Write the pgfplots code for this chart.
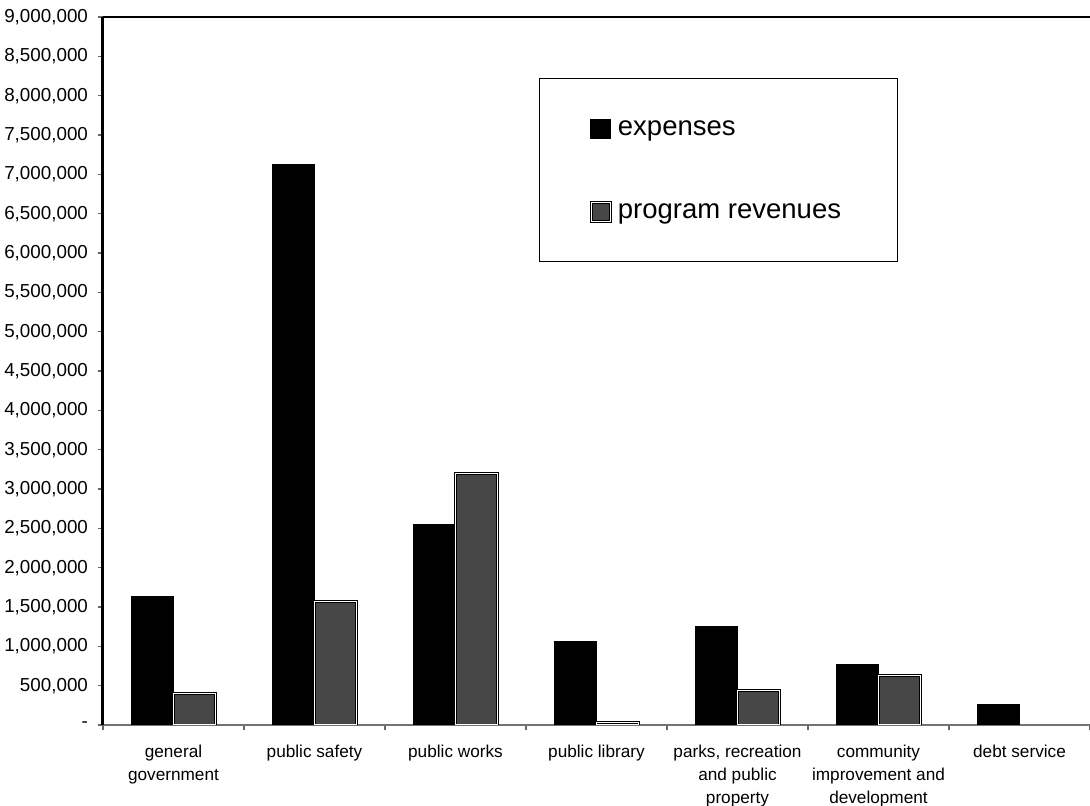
\documentclass[border=0pt]{standalone}
\usepackage{fontspec}
\setmainfont{Liberation Sans}
\usepackage{pgfplots}
\pgfplotsset{compat=1.18}
\begin{document}
\begin{tikzpicture}
\useasboundingbox (-51.5pt,-40.5pt) rectangle (493.5pt,362.5pt);
\begin{axis}[
  at={(0pt,0pt)}, anchor=south west,
  scale only axis, width=493.5pt, height=354pt,
  xmin=-0.5, xmax=6.5, ymin=0, ymax=9000000,
  axis x line*=bottom, axis y line*=left,
  x axis line style={draw=black!55, line width=0.9pt},
  y axis line style={draw=black, line width=1.5pt},
  tick align=outside,
  major tick length=2.5pt,
  minor tick length=2.5pt,
  ytick={0,500000,1000000,1500000,2000000,2500000,3000000,3500000,4000000,4500000,5000000,5500000,6000000,6500000,7000000,7500000,8000000,8500000,9000000},
  yticklabels={-,{500,000},{1,000,000},{1,500,000},{2,000,000},{2,500,000},{3,000,000},{3,500,000},{4,000,000},{4,500,000},{5,000,000},{5,500,000},{6,000,000},{6,500,000},{7,000,000},{7,500,000},{8,000,000},{8,500,000},{9,000,000}},
  yticklabel style={font=\fontsize{9.4}{11}\selectfont, xshift=-1.5pt},
  ytick style={draw=black!60, line width=0.7pt},
  xtick={0,1,2,3,4,5,6},
  xticklabels={general\\government, public safety, public works, public library, {parks, recreation\\and public\\property}, community\\improvement and\\development, debt service},
  xticklabel style={align=center, font=\fontsize{8.6}{11.5}\selectfont, anchor=north, yshift=-4pt},
  major x tick style={draw=none},
  minor xtick={-0.5,0.5,1.5,2.5,3.5,4.5,5.5,6.5},
  minor x tick style={draw=black!60, line width=0.8pt},
  ybar=0pt, bar width=21pt,
  every axis plot post/.append style={legend image code/.code={\draw[#1] (0pt,-4.75pt) rectangle (9.5pt,4.75pt);}},
  legend cell align=left,
  legend style={at={(rel axis cs:0.4418,0.9138)}, anchor=north west, draw=black, line width=0.7pt,
    inner xsep=25pt, inner ysep=18.5pt,
    font=\fontsize{13.75}{16}\selectfont, row sep=28.5pt,
    nodes={inner xsep=3.2pt, inner ysep=0pt, text height=10pt, text depth=3pt}},
]
\addplot[fill=black, draw=black] coordinates {(0,1630000) (1,7120000) (2,2550000) (3,1060000) (4,1250000) (5,770000) (6,260000)};
\addplot[fill=black!72, draw=black, line width=0.4pt, double=white, double distance=0.6pt] coordinates {(0,400000) (1,1570000) (2,3200000) (3,30000) (4,440000) (5,630000)};
\legend{expenses, program revenues}
\draw[black, line width=1pt] (rel axis cs:0,1) -- (rel axis cs:1,1);
\end{axis}
\end{tikzpicture}
\end{document}
